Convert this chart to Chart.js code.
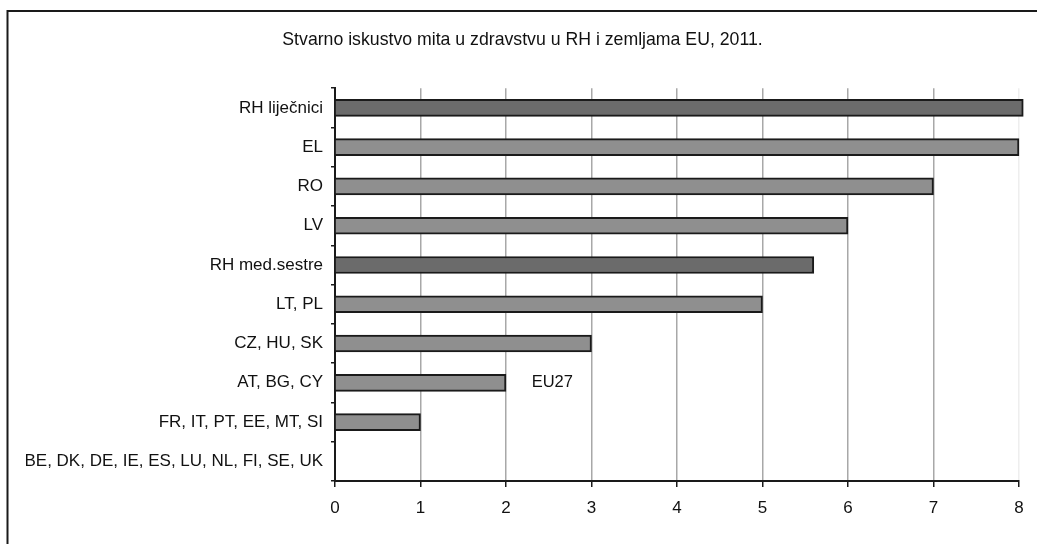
<!DOCTYPE html>
<html>
<head>
<meta charset="utf-8">
<script src="https://cdn.jsdelivr.net/npm/chart.js@4"></script>
<style>
  body { margin: 0; background: #fff; }
  canvas { display: block; }
</style>
</head>
<body>
<canvas id="bribe-chart" width="1037" height="544"></canvas>
<script>
// Chart values
const categories = [
  "RH liječnici",
  "EL",
  "RO",
  "LV",
  "RH med.sestre",
  "LT, PL",
  "CZ, HU, SK",
  "AT, BG, CY",
  "FR, IT, PT, EE, MT, SI",
  "BE, DK, DE, IE, ES, LU, NL, FI, SE, UK"
];
const values = [8.05, 8, 7, 6, 5.6, 5, 3, 2, 1, 0];
const croatianRows = ["RH liječnici", "RH med.sestre"];
const xTicks = [0, 1, 2, 3, 4, 5, 6, 7, 8];
const chartTitle = "Stvarno iskustvo mita u zdravstvu u RH i zemljama EU, 2011.";
const noteText = "EU27";
const noteValue = 2.3;
const noteCategory = "AT, BG, CY";

const FONT = "'Liberation Sans', Arial, sans-serif";

// Outer frame round the whole chart
const framePlugin = {
  id: "frame",
  beforeDraw(chart) {
    const ctx = chart.ctx;
    ctx.save();
    ctx.strokeStyle = "#1a1a1a";
    ctx.lineWidth = 2;
    ctx.strokeRect(7.5, 11, 1100, 600);
    ctx.restore();
  }
};

// "EU27" text placed through the scales
const notePlugin = {
  id: "note",
  afterDatasetsDraw(chart) {
    const { ctx, scales } = chart;
    const x = scales.x.getPixelForValue(noteValue);
    const y = scales.y.getPixelForValue(categories.indexOf(noteCategory));
    ctx.save();
    ctx.font = "16.5px " + FONT;
    ctx.fillStyle = "#111";
    ctx.textAlign = "left";
    ctx.textBaseline = "middle";
    ctx.fillText(noteText, x, y);
    ctx.restore();
  }
};

const ctx = document.getElementById("bribe-chart").getContext("2d");
new Chart(ctx, {
  type: "bar",
  data: {
    labels: categories,
    datasets: [{
      data: values,
      backgroundColor: categories.map(c => croatianRows.includes(c) ? "#6b6b6b" : "#8f8f8f"),
      borderColor: "#1a1a1a",
      borderWidth: 2,
      borderSkipped: "start",
      barThickness: 17,
      clip: false
    }]
  },
  options: {
    indexAxis: "y",
    responsive: false,
    animation: false,
    layout: { padding: { left: 26, right: 18, top: 0, bottom: 0 } },
    plugins: {
      legend: { display: false },
      tooltip: { enabled: false },
      title: {
        display: true,
        text: chartTitle,
        color: "#111",
        font: { family: FONT, size: 17.7, weight: "normal" },
        padding: { top: 29, bottom: 38 }
      }
    },
    scales: {
      x: {
        min: 0,
        max: 8,
        afterBuildTicks: axis => { axis.ticks = xTicks.map(v => ({ value: v })); },
        afterFit: axis => { axis.height = 63; },
        grid: {
          color: c => (c.tick && c.tick.value === 8) ? "#eeeeee" : "#a8a8a8",
          lineWidth: 1.5,
          tickColor: "#1a1a1a",
          tickLength: 6
        },
        border: { color: "#1a1a1a", width: 2 },
        ticks: {
          color: "#111",
          padding: 11,
          font: { family: FONT, size: 17 }
        }
      },
      y: {
        afterFit: axis => { axis.width = 309; },
        grid: {
          drawOnChartArea: false,
          offset: true,
          tickColor: "#1a1a1a",
          tickLength: 4,
          lineWidth: 1.5
        },
        border: { color: "#1a1a1a", width: 2 },
        ticks: {
          color: "#111",
          padding: 8,
          font: { family: FONT, size: 17 }
        }
      }
    }
  },
  plugins: [framePlugin, notePlugin]
});
</script>
</body>
</html>
